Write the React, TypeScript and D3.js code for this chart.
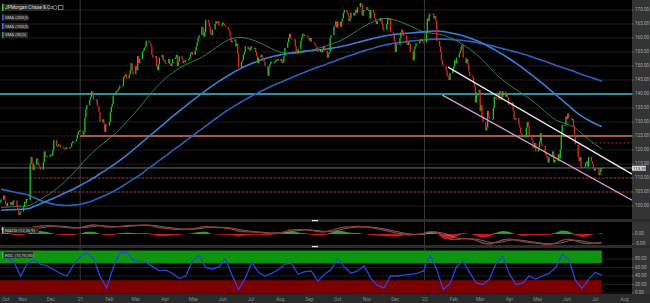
import React from 'react';
import * as d3 from 'd3';

const W = 650;
const H = 303;
const PR = 632; // plot right edge

const title = 'JPMorgan Chase & Co';
const firstDay = '2020-10-08';
const lastDomainDay = '2022-08-09';

const closeMonths = [
  '2020-10', '2020-11', '2020-12', '2021-01', '2021-02', '2021-03', '2021-04', '2021-05',
  '2021-06', '2021-07', '2021-08', '2021-09', '2021-10', '2021-11', '2021-12', '2022-01',
  '2022-02', '2022-03', '2022-04', '2022-05', '2022-06', '2022-07',
];
const closeRows = [
  [101.5, 102.3, 103.8, 102.0, 100.6, 100.0, 101.2, 100.5, 101.4, 100.3, 101.8, 102.0, 99.6, 98.3, 96.8, 97.5, 98.0],
  [99.6, 101.5, 101.0, 102.5, 102.0, 115.0, 117.5, 115.6, 112.8, 114.8, 117.0, 115.5, 114.5, 114.0, 113.0, 115.8, 119.5, 117.8, 117.8, 117.5, 117.9],
  [118.5, 118.0, 120.0, 123.5, 121.5, 121.5, 122.0, 121.8, 121.0, 120.8, 120.5, 120.3, 121.0, 120.5, 121.0, 121.2, 122.5, 123.0, 123.0, 124.0, 125.5, 126.5, 127.0],
  [127.0, 125.5, 126.3, 131.5, 134.5, 136.0, 138.0, 139.0, 141.0, 140.5, 138.0, 138.0, 136.0, 135.5, 133.5, 130.0, 131.0, 129.5, 126.5, 129.0, 128.7],
  [130.0, 133.5, 135.5, 136.5, 139.5, 141.0, 140.8, 141.5, 142.2, 143.0, 143.0, 146.0, 146.5, 147.0, 145.5, 147.0, 148.5, 151.0, 148.0, 147.0],
  [150.0, 148.5, 153.5, 151.0, 152.5, 155.0, 155.5, 156.5, 157.0, 159.0, 158.5, 158.0, 157.0, 154.0, 153.0, 153.5, 150.0, 148.5, 150.5, 153.0, 154.0, 152.0, 152.2],
  [151.0, 151.0, 152.5, 150.5, 150.0, 151.0, 152.5, 153.0, 154.0, 150.0, 151.5, 153.5, 152.5, 151.0, 151.5, 152.0, 152.0, 152.5, 153.0, 154.5, 155.0, 154.0],
  [155.5, 157.0, 158.5, 160.0, 161.0, 164.0, 163.5, 160.5, 162.0, 166.5, 165.5, 164.0, 161.5, 161.0, 163.0, 165.0, 166.0, 165.5, 166.0, 164.5, 164.5],
  [165.5, 165.0, 164.5, 164.0, 163.0, 162.5, 160.5, 158.5, 159.0, 159.5, 157.0, 158.0, 154.5, 149.5, 151.5, 152.0, 154.0, 155.0, 157.0, 156.0, 156.5, 155.5],
  [157.0, 156.5, 156.5, 155.0, 153.5, 151.0, 153.0, 154.0, 153.0, 152.5, 151.5, 150.0, 146.5, 149.5, 150.5, 151.5, 151.0, 151.5, 152.0, 152.0, 152.5, 151.8],
  [152.5, 151.0, 151.5, 153.5, 156.5, 158.5, 160.0, 161.5, 160.0, 159.5, 159.5, 157.0, 155.0, 154.5, 156.0, 159.0, 160.5, 161.5, 161.0, 161.0, 160.5, 160.0],
  [159.0, 160.0, 158.5, 158.0, 157.5, 157.0, 155.5, 155.0, 156.0, 155.0, 156.0, 157.0, 155.5, 153.0, 154.0, 155.0, 160.0, 161.0, 164.0, 164.5, 166.0, 163.7],
  [165.8, 164.0, 166.0, 167.0, 169.0, 170.0, 169.0, 168.0, 166.0, 167.0, 169.0, 168.0, 169.0, 170.0, 169.0, 171.0, 172.5, 172.0, 168.0, 170.0, 170.0],
  [171.0, 170.0, 170.0, 167.0, 170.0, 169.0, 167.0, 166.0, 165.0, 166.0, 167.0, 167.0, 165.0, 163.0, 163.0, 165.0, 167.0, 167.0, 167.0, 162.0, 161.0, 159.0],
  [155.0, 158.0, 157.5, 160.0, 162.0, 163.0, 161.0, 161.0, 158.0, 157.5, 158.5, 158.0, 155.0, 152.0, 156.0, 157.0, 158.0, 158.0, 159.0, 159.5, 159.5, 158.5, 158.4],
  [161.7, 167.0, 166.0, 168.5, 168.7, 168.5, 167.0, 167.8, 166.0, 159.0, 157.0, 155.0, 152.0, 150.5, 150.0, 148.5, 146.5, 146.0, 145.0, 147.5, 148.6],
  [150.0, 152.0, 151.0, 153.0, 154.5, 155.5, 157.0, 157.5, 153.0, 151.0, 152.5, 150.5, 148.0, 146.5, 146.0, 144.0, 142.5, 137.0, 140.5, 141.5],
  [134.0, 136.0, 132.0, 130.0, 127.0, 128.0, 134.0, 132.0, 131.0, 131.0, 135.0, 139.0, 139.0, 138.0, 140.0, 141.0, 138.0, 139.0, 141.0, 139.0, 140.0, 139.0, 136.3],
  [136.0, 137.0, 134.0, 131.0, 131.0, 131.5, 129.0, 128.0, 126.0, 125.0, 125.0, 124.5, 128.0, 130.0, 128.5, 125.0, 123.5, 121.0, 121.0, 122.5, 119.5],
  [121.0, 123.0, 126.0, 122.0, 121.5, 119.0, 118.0, 117.0, 115.5, 117.5, 118.0, 119.5, 115.5, 116.5, 116.0, 118.5, 117.0, 120.0, 125.0, 129.0, 129.0, 132.0],
  [131.0, 133.0, 131.5, 131.0, 131.0, 128.5, 125.5, 122.0, 117.5, 116.0, 117.5, 114.0, 114.0, 114.0, 115.5, 116.0, 114.0, 117.5, 116.0, 115.0, 113.5, 112.6],
  [113.5, 113.5, 111.0, 112.0, 113.5, 113.59],
];

// weekly (Fridays) indicator samples, starting 2020-10-09
const weeklyStart = '2020-10-09';
const sma200 = [
  106.0, 105.5, 105.0, 104.5, 104.0, 103.0, 102.0, 101.2, 100.6, 100.3, 100.2, 100.3, 100.6, 101.2, 102.0, 103.0,
  104.0, 105.2, 106.5, 108.0, 109.5, 111.0, 112.8, 114.5, 116.3, 118.0, 119.8, 121.5, 123.3, 125.0, 126.8, 128.5,
  130.3, 132.0, 133.7, 135.2, 136.6, 138.0, 139.3, 140.5, 141.7, 142.8, 143.8, 144.8, 145.8, 146.8, 147.8, 148.7,
  149.6, 150.4, 151.3, 152.1, 153.0, 153.8, 154.6, 155.4, 156.1, 156.8, 157.4, 157.9, 158.3, 158.6, 158.9, 159.1,
  159.3, 159.5, 159.6, 159.6, 159.5, 159.3, 159.1, 158.8, 158.4, 157.9, 157.4, 156.8, 156.2, 155.6, 155.0, 154.3,
  153.6, 152.8, 152.0, 151.2, 150.3, 149.5, 148.7, 147.9, 147.0, 146.2, 145.4, 144.6,
];
const sma100 = [
  98.5, 98.6, 98.7, 98.8, 99.0, 99.8, 100.8, 101.8, 102.8, 103.9, 105.0, 106.1, 107.3, 108.6, 110.0, 111.5,
  113.0, 114.6, 116.3, 118.1, 120.0, 122.0, 124.0, 126.0, 128.0, 130.0, 132.0, 133.9, 135.8, 137.6, 139.4, 141.2,
  142.9, 144.5, 146.0, 147.4, 148.7, 149.9, 150.9, 151.8, 152.6, 153.3, 153.8, 154.3, 154.7, 155.0, 155.3, 155.5,
  155.7, 156.0, 156.3, 156.7, 157.2, 157.8, 158.4, 159.0, 159.6, 160.2, 160.7, 161.1, 161.4, 161.6, 161.8, 162.0,
  162.2, 162.4, 162.5, 162.3, 161.9, 161.4, 160.8, 160.0, 159.1, 158.0, 156.8, 155.5, 154.1, 152.6, 151.0, 149.3,
  147.5, 145.7, 143.8, 141.8, 139.8, 137.8, 135.8, 133.7, 132.0, 130.6, 129.4, 128.3,
];
const sma50 = [
  99.5, 99.6, 99.8, 99.9, 100.0, 101.0, 102.4, 103.8, 105.4, 107.3, 109.4, 111.8, 114.5, 117.0, 119.3, 121.5,
  123.3, 125.2, 127.5, 130.0, 132.5, 135.3, 138.2, 141.0, 143.5, 145.8, 147.6, 149.2, 150.5, 151.6, 152.6, 154.0,
  155.6, 157.3, 158.8, 159.8, 160.2, 160.0, 159.4, 158.5, 157.4, 156.2, 155.2, 154.6, 154.4, 154.6, 155.0, 155.6,
  156.3, 157.0, 157.8, 158.6, 159.8, 161.2, 162.7, 164.2, 165.4, 166.4, 167.0, 166.8, 166.2, 165.3, 164.3, 163.2,
  162.2, 161.8, 161.5, 161.0, 160.2, 159.0, 157.6, 156.0, 154.2, 152.0, 149.5, 147.0, 145.0, 143.2, 141.6, 140.0,
  138.4, 136.6, 134.6, 132.5, 130.8, 129.8, 129.0, 127.8, 125.8, 123.8, 122.0, 120.4,
];
const macdLine = [
  2.5, 2.8, 2.2, 1.8, 2.2, 3.5, 4.0, 4.2, 4.0, 3.6, 3.2, 3.0, 3.2, 4.0, 4.5, 4.2,
  3.5, 3.4, 3.8, 4.2, 4.3, 4.4, 4.5, 4.0, 3.2, 2.8, 2.5, 2.3, 2.4, 2.6, 3.2, 3.8,
  3.4, 3.2, 3.0, 2.5, 1.5, 1.2, 1.0, 0.8, 0.5, 0.3, 0.5, 1.2, 2.0, 2.2, 2.2, 1.8,
  1.2, 1.0, 1.8, 2.8, 3.4, 3.6, 3.8, 3.6, 3.2, 2.6, 2.0, 1.2, 0.4, 0.0, -0.4, -0.2,
  0.2, 1.2, 1.0, -1.0, -2.5, -2.8, -2.2, -2.4, -3.2, -4.5, -5.0, -4.0, -3.0, -2.6, -3.0, -3.8,
  -4.2, -4.6, -5.0, -5.2, -4.5, -3.2, -2.6, -3.4, -4.4, -4.8, -4.6, -4.2,
];
const macdSignal = [
  2.3, 2.5, 2.5, 2.2, 2.1, 2.5, 3.1, 3.6, 3.9, 3.9, 3.6, 3.3, 3.1, 3.3, 3.8, 4.1,
  4.0, 3.7, 3.6, 3.8, 4.0, 4.2, 4.3, 4.3, 3.9, 3.4, 3.0, 2.6, 2.4, 2.4, 2.6, 3.1,
  3.4, 3.4, 3.2, 2.9, 2.3, 1.7, 1.3, 1.0, 0.8, 0.5, 0.5, 0.7, 1.2, 1.7, 2.0, 2.0,
  1.7, 1.3, 1.3, 1.8, 2.6, 3.2, 3.5, 3.6, 3.5, 3.1, 2.6, 1.9, 1.2, 0.5, 0.0, -0.2,
  -0.1, 0.4, 0.8, 0.4, -0.8, -2.0, -2.4, -2.4, -2.6, -3.3, -4.2, -4.4, -3.9, -3.2, -2.9, -3.2,
  -3.7, -4.2, -4.6, -4.9, -4.9, -4.3, -3.4, -3.1, -3.5, -4.2, -4.6, -4.5,
];
const macdHist = [
  0.2, 0.3, -0.3, -0.4, 0.1, 1.0, 0.9, 0.6, 0.1, -0.3, -0.4, -0.3, 0.1, 0.7, 0.7, 0.1,
  -0.5, -0.3, 0.2, 0.4, 0.3, 0.2, 0.2, -0.3, -0.7, -0.6, -0.5, -0.3, 0.0, 0.2, 0.6, 0.7,
  0.0, -0.2, -0.2, -0.4, -0.8, -0.5, -0.3, -0.2, -0.3, -0.2, 0.0, 0.5, 0.8, 0.5, 0.2, -0.2,
  -0.5, -0.3, 0.5, 1.0, 0.8, 0.4, 0.3, 0.0, -0.3, -0.5, -0.6, -0.7, -0.8, -0.5, -0.4, 0.0,
  0.3, 0.8, 0.2, -1.4, -1.7, -0.8, 0.2, 0.0, -0.6, -1.2, -0.8, 0.4, 0.9, 0.6, -0.1, -0.6,
  -0.5, -0.4, -0.4, -0.3, 0.4, 1.1, 0.8, -0.3, -0.9, -0.6, 0.0, 0.3,
];
const rocValues = [
  85, 82, 72, 40, 70, 78, 68, 64, 55, 46, 40, 66, 85, 95, 82, 40,
  12, 60, 95, 96, 78, 74, 72, 62, 52, 54, 46, 34, 40, 75, 88, 60,
  56, 62, 80, 42, 8, 35, 72, 48, 40, 46, 55, 68, 70, 44, 50, 52,
  28, 44, 55, 80, 62, 46, 52, 64, 35, 18, 12, 40, 40, 42, 44, 46,
  52, 88, 55, 8, 22, 62, 75, 48, 23, 20, 33, 70, 86, 45, 20, 23,
  40, 33, 40, 46, 60, 90, 80, 30, 11, 32, 48, 42,
];

const priceTicks = [100, 105, 110, 115, 120, 125, 130, 135, 140, 145, 150, 155, 160, 165, 170];
const macdTicks = [0, -5];
const rocTicks = [80, 60, 40, 20, 0];
const smaLabels = ['SMA (200,0)', 'SMA (100,0)', 'SMA (50,0)'];

const cyanLevel = { price: 140, from: '2020-10-08' };
const orangeLevel = { price: 125, from: '2021-01-01' };
const dashedLevels = [
  { price: 110, from: '2020-11-09' },
  { price: 105, from: '2020-11-09' },
  { price: 122.5, from: '2022-06-27' },
];
const upperChannel = [['2022-01-26', 149.6], ['2022-08-09', 111.4]];
const lowerChannel = [['2022-01-20', 139.6], ['2022-08-09', 102.1]];
const yearLines = ['2021-01-01', '2022-01-01'];

const parse = d3.timeParse('%Y-%m-%d');

export default function App() {
  const x = d3.scaleTime().domain([parse(firstDay)!, parse(lastDomainDay)!]).range([0, PR]);
  const yP = d3.scaleLinear().domain([100, 170]).range([206, 10]);
  const yM = d3.scaleLinear().domain([-5, 0]).range([244, 234]);
  const yR = d3.scaleLinear().domain([0, 100]).range([293, 250.5]);

  // daily candles
  const start = parse(firstDay)!;
  const bars: { d: Date; c: number }[] = [];
  closeMonths.forEach((m, i) => {
    const [yy, mm] = m.split('-').map(Number);
    const ms = new Date(yy, mm - 1, 1);
    const me = new Date(yy, mm, 1);
    const days = d3.timeDay.range(ms < start ? start : ms, me).filter((d) => d.getDay() % 6 !== 0);
    const row = closeRows[i];
    for (let k = 0; k < Math.min(days.length, row.length); k++) bars.push({ d: days[k], c: row[k] });
  });
  const candles = bars.map((b, i) => {
    const o = i === 0 ? b.c : bars[i - 1].c;
    return { d: b.d, o, c: b.c, up: b.c >= o };
  });
  const last = bars[bars.length - 1];

  const wStart = parse(weeklyStart)!;
  const wDates = rocValues.map((_, i) => d3.timeDay.offset(wStart, i * 7));

  const lineP = (vals: number[]) =>
    d3.line<number>().x((_, i) => x(wDates[i])).y((v) => yP(v)).curve(d3.curveMonotoneX)(vals) || '';
  const lineM = (vals: number[]) =>
    d3.line<number>().x((_, i) => x(wDates[i])).y((v) => yM(v)).curve(d3.curveMonotoneX)(vals) || '';
  const histArea = (pos: boolean) =>
    d3.area<number>()
      .x((_, i) => x(wDates[i]))
      .y0(yM(0))
      .y1((v) => yM(pos ? Math.max(v, 0) * 1.6 : Math.min(v, 0) * 1.6))
      .curve(d3.curveMonotoneX)(macdHist) || '';
  const rocPath = d3.line<number>().x((_, i) => x(wDates[i])).y((v) => yR(v))(rocValues) || '';

  const months = d3.timeMonth.range(new Date(2020, 9, 1), new Date(2022, 8, 1));
  const fmtMon = d3.timeFormat('%b');
  const dataEndX = x(wDates[wDates.length - 1]);

  const chan = (pts: (string | number)[][]) =>
    d3.line<(string | number)[]>().x((p) => x(parse(p[0] as string)!)).y((p) => yP(p[1] as number))(pts) || '';

  const font = 'Roboto, "DejaVu Sans", sans-serif';
  const cw = 1.3;
  const tagY = yP(last.c);

  return (
    <div style={{ position: 'fixed', left: 0, top: 0, width: W, height: H, background: '#000' }}>
      <svg width={W} height={H} style={{ display: 'block', fontFamily: font }}>
        <defs>
          <clipPath id="cpPrice"><rect x={0} y={0} width={PR} height={219} /></clipPath>
          <clipPath id="cpMacd"><rect x={0} y={222} width={PR} height={23} /></clipPath>
          <clipPath id="cpRoc"><rect x={0} y={248} width={PR} height={46} /></clipPath>
        </defs>
        <rect x={0} y={0} width={W} height={H} fill="#000" />
        {/* right axis strip */}
        <rect x={PR} y={0} width={W - PR} height={H} fill="#343434" />
        {/* bottom axis strip */}
        <rect x={0} y={294} width={W} height={9} fill="#2a2a2a" />
        {/* separators */}
        <rect x={0} y={219} width={W} height={3} fill="#2c2c2c" />
        <rect x={0} y={245} width={W} height={3} fill="#2c2c2c" />
        <rect x={312} y={220} width={6} height={1.2} fill="#e8e8e8" />
        <rect x={312} y={246} width={6} height={1.2} fill="#e8e8e8" />

        {/* price grid */}
        {priceTicks.map((t) => (
          <g key={'pg' + t}>
            <line x1={0} x2={PR} y1={yP(t)} y2={yP(t)} stroke="#1f1f1f" strokeWidth={1} />
            <line x1={PR} x2={PR + 2} y1={yP(t)} y2={yP(t)} stroke="#888" strokeWidth={0.6} />
            <text x={PR + 3} y={yP(t) + 1.4} fontSize={4.6} fill="#a8a8a8">{t.toFixed(2)}</text>
          </g>
        ))}
        {/* roc grid */}
        {rocTicks.map((t) => (
          <g key={'rg' + t}>
            <line x1={0} x2={PR} y1={yR(t)} y2={yR(t)} stroke="#1f1f1f" strokeWidth={1} />
            <line x1={PR} x2={PR + 2} y1={yR(t)} y2={yR(t)} stroke="#888" strokeWidth={0.6} />
            <text x={PR + 3} y={yR(t) + 1.4} fontSize={4.6} fill="#a8a8a8">{t.toFixed(2)}</text>
          </g>
        ))}
        {macdTicks.map((t) => (
          <g key={'mg' + t}>
            <line x1={PR} x2={PR + 2} y1={yM(t)} y2={yM(t)} stroke="#888" strokeWidth={0.6} />
            <text x={PR + 3} y={yM(t) + 1.4} fontSize={4.6} fill="#a8a8a8">{t.toFixed(2)}</text>
          </g>
        ))}

        {/* year separators */}
        {yearLines.map((d) => (
          <line key={d} x1={x(parse(d)!)} x2={x(parse(d)!)} y1={0} y2={294} stroke="#3a3a3a" strokeWidth={1} />
        ))}

        <g clipPath="url(#cpPrice)">
          {/* levels */}
          <line x1={x(parse(cyanLevel.from)!)} x2={PR} y1={yP(cyanLevel.price)} y2={yP(cyanLevel.price)} stroke="#3bbccb" strokeWidth={1.6} />
          <line x1={x(parse(orangeLevel.from)!)} x2={PR} y1={yP(orangeLevel.price)} y2={yP(orangeLevel.price)} stroke="#d9774c" strokeWidth={1.6} />
          {dashedLevels.map((l) => (
            <line key={'dl' + l.price} x1={x(parse(l.from)!)} x2={PR} y1={yP(l.price)} y2={yP(l.price)} stroke="#c42a2a" strokeWidth={0.9} strokeDasharray="2,2" />
          ))}
          <line x1={0} x2={PR} y1={tagY} y2={tagY} stroke="#7a7a7a" strokeWidth={0.9} />

          {/* SMAs */}
          <path d={lineP(sma200)} fill="none" stroke="#2a62bd" strokeWidth={1.6} />
          <path d={lineP(sma100)} fill="none" stroke="#3a7fd6" strokeWidth={1.6} />
          <path d={lineP(sma50)} fill="none" stroke="#2e8c6c" strokeWidth={0.9} />

          {/* candles */}
          {candles.map((c, i) => {
            const y1 = yP(Math.max(c.o, c.c));
            const y2 = yP(Math.min(c.o, c.c));
            return (
              <rect key={i} x={x(c.d) - cw / 2} y={y1} width={cw} height={Math.max(1, y2 - y1)} fill={c.up ? '#22c422' : '#e02a1f'} />
            );
          })}

          {/* channel */}
          <path d={chan(upperChannel)} fill="none" stroke="#ececec" strokeWidth={1.3} />
          <path d={chan(lowerChannel)} fill="none" stroke="#d99ad9" strokeWidth={1.3} />
        </g>

        {/* last price tag */}
        <rect x={PR} y={tagY - 2.2} width={14} height={5} fill="#d8d8d8" />
        <text x={PR + 1} y={tagY + 2.2} fontSize={4.2} fill="#111">{last.c.toFixed(2)}</text>

        {/* MACD */}
        <g clipPath="url(#cpMacd)">
          <path d={histArea(true)} fill="#25a525" />
          <path d={histArea(false)} fill="#c41a1a" />
          <path d={lineM(macdSignal)} fill="none" stroke="#9a9a9a" strokeWidth={0.7} />
          <path d={lineM(macdLine)} fill="none" stroke="#9c3a32" strokeWidth={1.3} />
        </g>

        {/* ROC */}
        <g clipPath="url(#cpRoc)">
          <rect x={0} y={yR(100)} width={dataEndX} height={yR(70) - yR(100)} fill="#0f9410" />
          <rect x={0} y={yR(30)} width={dataEndX} height={yR(0) - yR(30)} fill="#7d0000" />
          <path d={rocPath} fill="none" stroke="#2a44e6" strokeWidth={1.3} />
        </g>

        {/* legends */}
        <rect x={2} y={4} width={48} height={7} fill="#2a2a2a" />
        <rect x={2} y={4} width={1.5} height={7} fill="#3cc43c" />
        <text x={5} y={9.2} fontSize={4.8} fill="#dcdcdc">{title}</text>
        <circle cx={55} cy={7.5} r={2} fill="none" stroke="#aaa" strokeWidth={0.7} />
        <rect x={58.5} y={5.3} width={4.4} height={4.4} fill="none" stroke="#aaa" strokeWidth={0.7} />
        {smaLabels.map((s, i) => (
          <g key={s}>
            <rect x={2} y={14.5 + i * 8.7} width={26} height={6} fill="#2a2a2a" />
            <rect x={2} y={14.5 + i * 8.7} width={1.5} height={6} fill={['#2a62bd', '#3a7fd6', '#2e9c7a'][i]} />
            <text x={5} y={19 + i * 8.7} fontSize={4.3} fill="#d0d0d0">{s}</text>
          </g>
        ))}
        <rect x={2} y={227} width={37} height={6} fill="#2a2a2a" />
        <rect x={2} y={227} width={1.5} height={6} fill="#c0c0c0" />
        <text x={5} y={231.6} fontSize={4.3} fill="#d0d0d0">MACD (12,26,9)</text>
        <rect x={2} y={252} width={31} height={6} fill="#2a2a2a" />
        <rect x={2} y={252} width={1.5} height={6} fill="#3cc43c" />
        <text x={5} y={256.6} fontSize={4.3} fill="#d0d0d0">ROC (10,70,30)</text>

        {/* x axis labels */}
        {months.map((m) => {
          const lbl = m.getMonth() === 0 ? "'" + String(m.getFullYear()).slice(2) : fmtMon(m);
          const cx = Math.max(x(m), 6);
          return (
            <text key={m.toISOString()} x={cx} y={300.5} fontSize={4.8} fill="#8a8a8a" textAnchor="middle">{lbl}</text>
          );
        })}
      </svg>
    </div>
  );
}
